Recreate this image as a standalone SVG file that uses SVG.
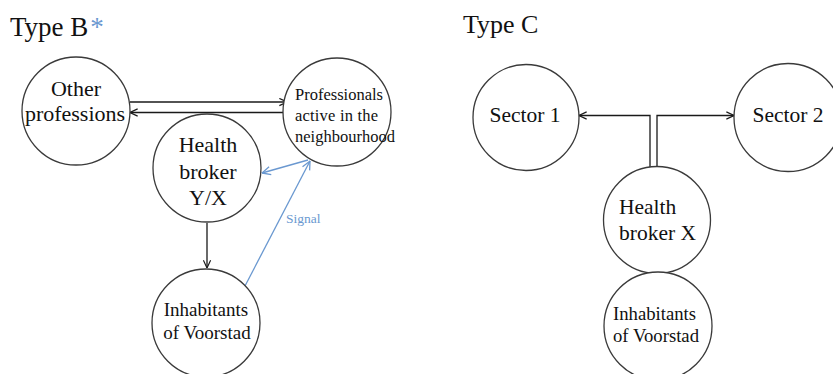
<svg xmlns="http://www.w3.org/2000/svg" width="833" height="374" viewBox="0 0 833 374">
  <style>
    .node { fill: #ffffff; stroke: #3a3a3a; stroke-width: 1.3; }
    .t { font-family: "Liberation Serif", "Times New Roman", serif; fill: #111111; }
    .edge { fill: none; stroke: #1a1a1a; stroke-width: 1.3; }
    .blue { fill: none; stroke: #6a98d0; stroke-width: 1.3; }
  </style>
  <defs>
    <marker id="arrow" viewBox="0 0 10 10" refX="9.5" refY="5" markerWidth="9" markerHeight="9" markerUnits="userSpaceOnUse" orient="auto">
      <path d="M1,1 L9.5,5 L1,9" fill="none" stroke="#1a1a1a" stroke-width="1.3"/>
    </marker>
    <marker id="arrowBlue" viewBox="0 0 10 10" refX="9.5" refY="5" markerWidth="10" markerHeight="10" markerUnits="userSpaceOnUse" orient="auto">
      <path d="M1,1 L9.5,5 L1,9" fill="none" stroke="#6a98d0" stroke-width="1.3"/>
    </marker>
  </defs>
  <rect width="833" height="374" fill="#ffffff"/>

  <!-- Section titles -->
  <text class="t" x="10" y="36" font-size="27">Type B<tspan style="fill:#6a98d0" dx="2">*</tspan></text>
  <text class="t" x="463" y="33" font-size="26">Type C</text>

  <!-- Connectors -->
  <g id="connectors">
    <!-- Type B -->
    <line class="edge" x1="130" y1="102" x2="287" y2="102" marker-end="url(#arrow)"/>
    <line class="edge" x1="283" y1="112.5" x2="130" y2="112.5" marker-end="url(#arrow)"/>
    <line class="edge" x1="207" y1="223" x2="207" y2="268" marker-end="url(#arrow)"/>
    <line class="blue" x1="308" y1="160" x2="262" y2="173" marker-end="url(#arrowBlue)"/>
    <line class="blue" x1="245" y1="286" x2="310" y2="161" marker-end="url(#arrowBlue)"/>
    <text class="t" x="286" y="223" font-size="13.5" style="fill:#6a98d0">Signal</text>
    <!-- Type C -->
    <polyline class="edge" points="650,167 650,115.5 579,115.5" marker-end="url(#arrow)"/>
    <polyline class="edge" points="657,167 657,115.5 734,115.5" marker-end="url(#arrow)"/>
  </g>

  <!-- Type B nodes -->
  <g id="other-professions">
    <circle class="node" cx="76" cy="111" r="54"/>
    <text class="t" x="76" y="96" font-size="22" text-anchor="middle">Other</text>
    <text class="t" x="75" y="121" font-size="22" text-anchor="middle">professions</text>
  </g>
  <g id="professionals">
    <circle class="node" cx="337" cy="112" r="54"/>
    <text class="t" x="295" y="100" font-size="16.5">Professionals</text>
    <text class="t" x="295" y="121" font-size="16.5" textLength="83" lengthAdjust="spacing">active in the</text>
    <text class="t" x="295" y="142" font-size="16.5">neighbourhood</text>
  </g>
  <g id="health-broker-yx">
    <circle class="node" cx="207" cy="168" r="54"/>
    <text class="t" x="208" y="152" font-size="22" text-anchor="middle">Health</text>
    <text class="t" x="208" y="179" font-size="22" text-anchor="middle">broker</text>
    <text class="t" x="208" y="205" font-size="22" text-anchor="middle">Y/X</text>
  </g>
  <g id="inhabitants-b">
    <circle class="node" cx="206" cy="323" r="54"/>
    <text class="t" x="206" y="316" font-size="19" text-anchor="middle">Inhabitants</text>
    <text class="t" x="207" y="339" font-size="19" text-anchor="middle">of Voorstad</text>
  </g>

  <!-- Type C nodes -->
  <g id="sector-1">
    <circle class="node" cx="526" cy="117.5" r="53"/>
    <text class="t" x="525" y="122" font-size="21.5" text-anchor="middle">Sector 1</text>
  </g>
  <g id="sector-2">
    <circle class="node" cx="788" cy="117.5" r="54"/>
    <text class="t" x="788" y="122" font-size="21.5" text-anchor="middle">Sector 2</text>
  </g>
  <g id="health-broker-x">
    <circle class="node" cx="657" cy="220" r="53.5"/>
    <text class="t" x="619" y="214" font-size="21.5">Health</text>
    <text class="t" x="619" y="240" font-size="21.5">broker X</text>
  </g>
  <g id="inhabitants-c">
    <circle class="node" cx="658" cy="326" r="54"/>
    <text class="t" x="613" y="320" font-size="18.7">Inhabitants</text>
    <text class="t" x="613" y="342" font-size="18.7">of Voorstad</text>
  </g>
</svg>
